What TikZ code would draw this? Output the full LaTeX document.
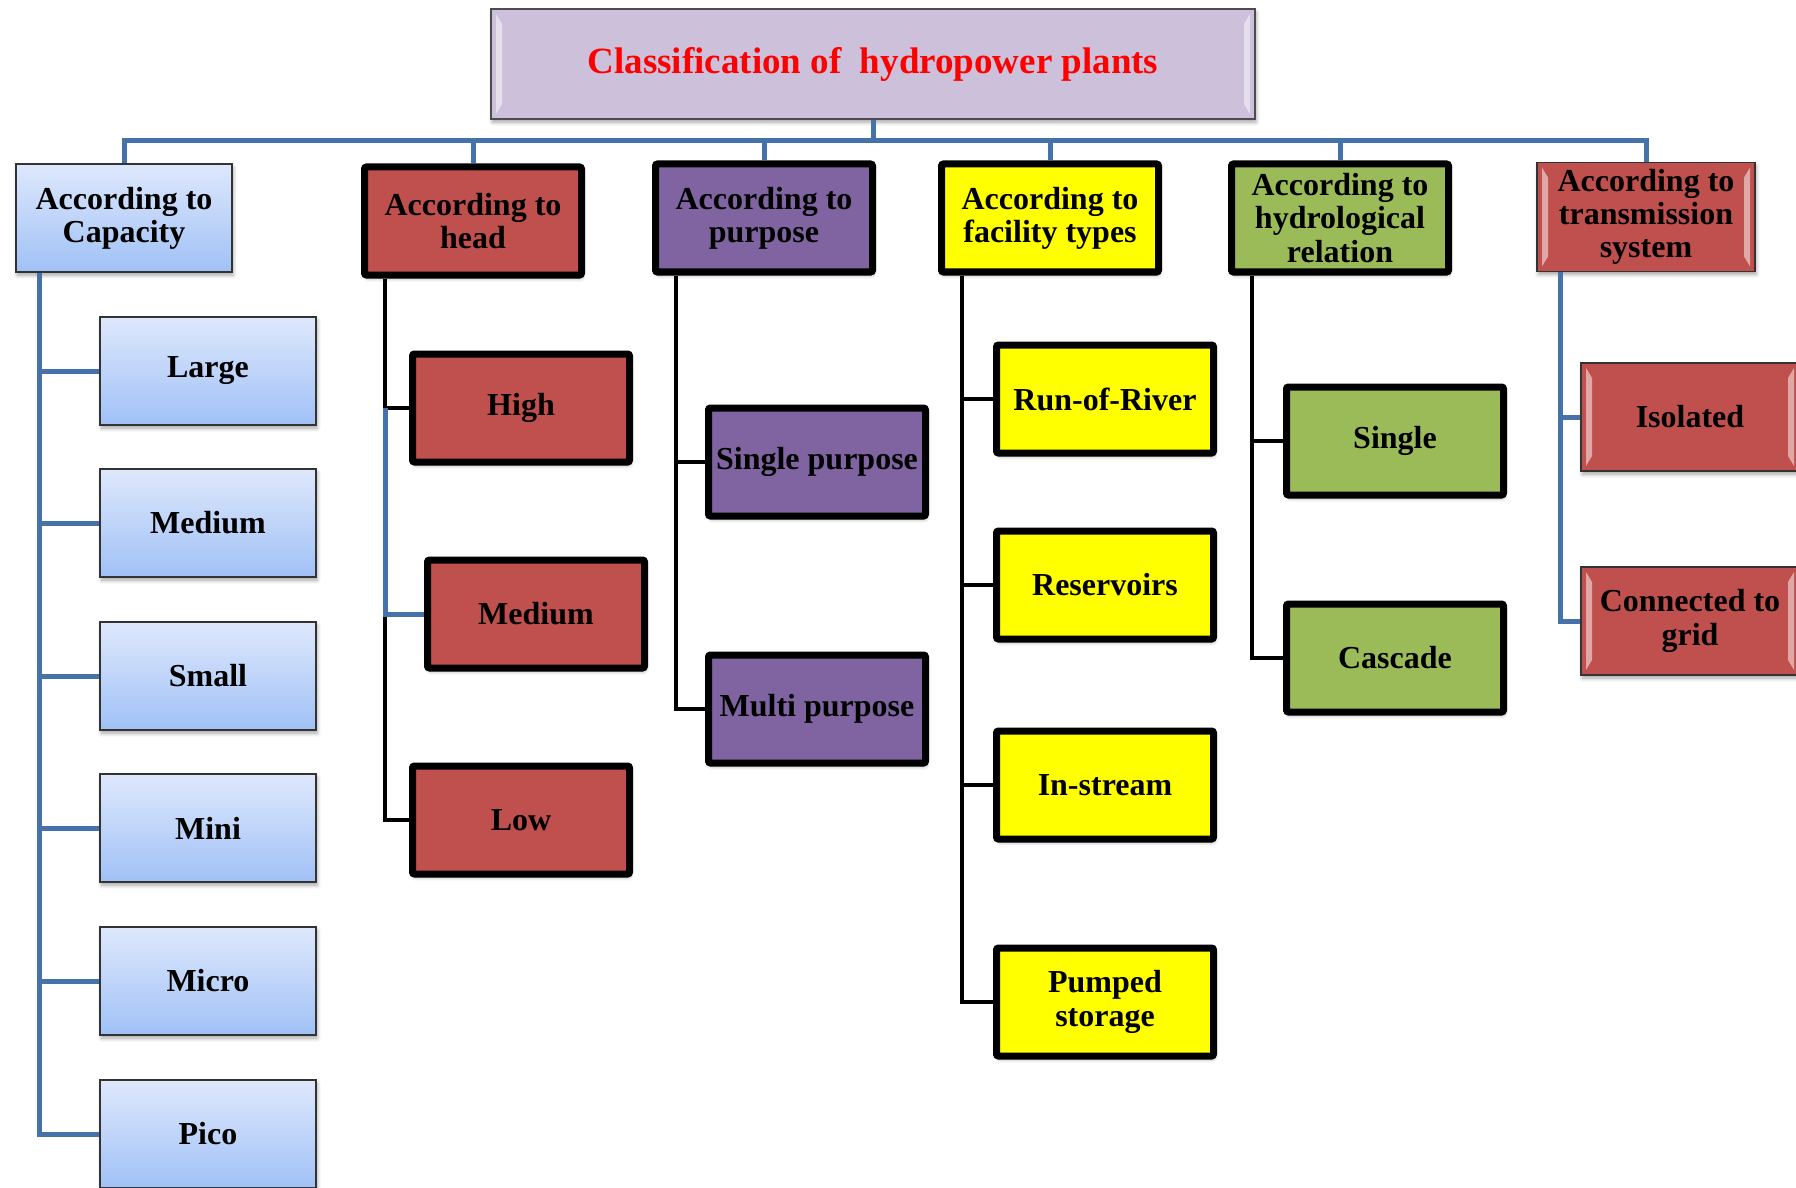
\documentclass[tikz,border=0pt]{standalone}
\usepackage{fontspec}
\setmainfont{Liberation Serif}
\usepackage{xcolor}
\usepackage{tikz}
\usetikzlibrary{shapes,arrows,positioning,shadows.blur}

\definecolor{titlefill}{RGB}{204,192,218}
\definecolor{captop}{RGB}{222,232,252}
\definecolor{capbot}{RGB}{160,193,246}
\definecolor{headred}{RGB}{192,80,77}
\definecolor{purpviolet}{RGB}{128,100,162}
\definecolor{facyellow}{RGB}{255,255,0}
\definecolor{hydgreen}{RGB}{155,187,89}
\definecolor{linkblue}{RGB}{70,114,170}

\tikzset{
    base/.style={rectangle, align=center, font=\bfseries\fontsize{16}{16.6}\selectfont,
        blur shadow={shadow xshift=0.6pt, shadow yshift=-1.6pt, shadow blur steps=4, shadow opacity=35}},
    bevel/.style={path picture={
        \fill[white, opacity=0.5] ([xshift=2.5pt,yshift=-2.5pt]path picture bounding box.north west) -- ++(3pt,-5pt)
            -- ([xshift=5.5pt,yshift=7.5pt]path picture bounding box.south west) -- ++(-3pt,-5pt) -- cycle;
        \fill[white, opacity=0.5] ([xshift=-2.5pt,yshift=-2.5pt]path picture bounding box.north east) -- ++(-3pt,-5pt)
            -- ([xshift=-5.5pt,yshift=7.5pt]path picture bounding box.south east) -- ++(3pt,-5pt) -- cycle;
    }},
    titlebox/.style={base, draw=black!70, line width=0.8pt, fill=titlefill, bevel,
        minimum width=382pt, minimum height=55pt, text=red, font=\bfseries\fontsize{18.5}{22}\selectfont},
    capbox/.style={base, draw=black!80, line width=0.6pt, top color=captop, bottom color=capbot,
        minimum width=108pt, minimum height=54pt},
    thickbox/.style={base, draw=black, line width=3.5pt, rounded corners=1pt,
        minimum width=108.5pt, minimum height=54pt},
    transbox/.style={base, draw=black!80, line width=0.6pt, fill=headred, bevel,
        minimum width=109pt, minimum height=54pt},
    bus/.style={draw=linkblue, line width=2.5pt},
    blk/.style={draw=black, line width=2.3pt},
}

\begin{document}
\begin{tikzpicture}[x=0.5pt, y=-0.5pt]
    \useasboundingbox (0,0) rectangle (1796,1188);

    \node [titlebox] (title) at (873,64) {Classification of \ hydropower plants};

    % first level
    \node [capbox] (cap) at (124,218) {According to\\Capacity};
    \node [thickbox, fill=headred] (head) at (473,221) {According to\\head};
    \node [thickbox, fill=purpviolet] (purp) at (764,218) {According to\\purpose};
    \node [thickbox, fill=facyellow] (fac) at (1050,218) {According to\\facility types};
    \node [thickbox, fill=hydgreen] (hyd) at (1340,218) {According to\\hydrological\\relation};
    \node [transbox] (trans) at (1646,217) {According to\\transmission\\system};

    % capacity
    \node [capbox] (large) at (208,371) {Large};
    \node [capbox] (cmed) at (208,523) {Medium};
    \node [capbox] (small) at (208,676) {Small};
    \node [capbox] (mini) at (208,828) {Mini};
    \node [capbox] (micro) at (208,981) {Micro};
    \node [capbox] (pico) at (208,1134) {Pico};

    % head
    \node [thickbox, fill=headred] (hhigh) at (521,408) {High};
    \node [thickbox, fill=headred] (hmed) at (536,614) {Medium};
    \node [thickbox, fill=headred] (hlow) at (521,820) {Low};

    % purpose
    \node [thickbox, fill=purpviolet] (single) at (817,462) {Single purpose};
    \node [thickbox, fill=purpviolet] (multi) at (817,709) {Multi purpose};

    % facility types
    \node [thickbox, fill=facyellow] (ror) at (1105,399) {Run-of-River};
    \node [thickbox, fill=facyellow] (res) at (1105,585) {Reservoirs};
    \node [thickbox, fill=facyellow] (instr) at (1105,785) {In-stream};
    \node [thickbox, fill=facyellow] (pump) at (1105,1002) {Pumped\\storage};

    % hydrological relation
    \node [thickbox, fill=hydgreen] (hsingle) at (1395,441) {Single};
    \node [thickbox, fill=hydgreen] (casc) at (1395,658) {Cascade};

    % transmission
    \node [transbox] (isol) at (1690,417) {Isolated};
    \node [transbox] (grid) at (1690,621) {Connected to\\grid};

    % connectors
    \foreach \n in {cap,head,purp,fac,hyd,trans}
        \draw [bus] (title.south) -- ++(0,21) -| (\n.north);

    \foreach \n in {large,cmed,small,mini,micro,pico}
        \draw [bus] ([xshift=12pt]cap.south west) |- (\n.west);

    \coordinate (hspine) at ([xshift=12pt]head.south west);
    \draw [blk] (hspine) |- (hhigh.west);
    \draw [blk] (hspine) |- (hlow.west);
    \draw [bus] (hspine |- hhigh.west) |- (hmed.west);

    \draw [blk] ([xshift=12pt]purp.south west) |- (single.west);
    \draw [blk] ([xshift=12pt]purp.south west) |- (multi.west);

    \foreach \n in {ror,res,instr,pump}
        \draw [blk] ([xshift=12pt]fac.south west) |- (\n.west);

    \draw [blk] ([xshift=12pt]hyd.south west) |- (hsingle.west);
    \draw [blk] ([xshift=12pt]hyd.south west) |- (casc.west);

    \draw [bus] ([xshift=12pt]trans.south west) |- (isol.west);
    \draw [bus] ([xshift=12pt]trans.south west) |- (grid.west);
\end{tikzpicture}
\end{document}
